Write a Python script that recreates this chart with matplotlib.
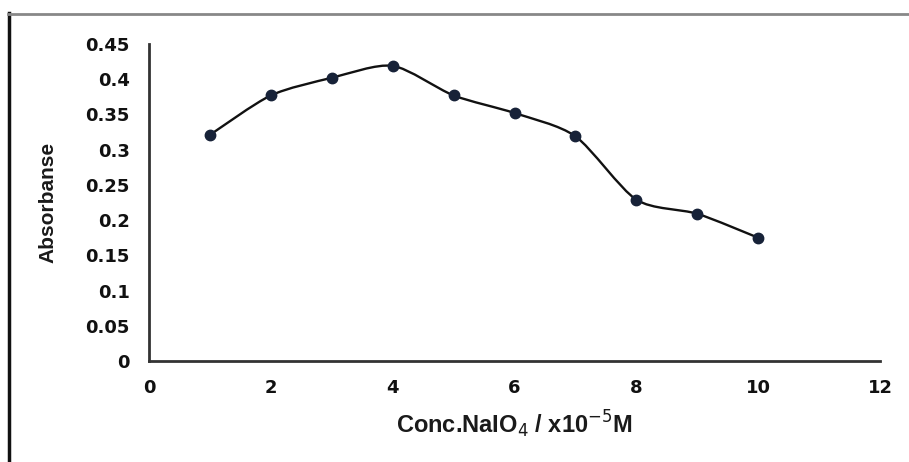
import numpy as np
import matplotlib
matplotlib.use("Agg")
import matplotlib.pyplot as plt
from matplotlib.path import Path
from matplotlib.patches import PathPatch
from matplotlib.lines import Line2D

conc = [1, 2, 3, 4, 5, 6, 7, 8, 9, 10]
absorbance = [0.321, 0.377, 0.402, 0.419, 0.377, 0.352, 0.319, 0.229, 0.209, 0.175]
xticks = [0, 2, 4, 6, 8, 10, 12]
yticks = [0, 0.05, 0.1, 0.15, 0.2, 0.25, 0.3, 0.35, 0.4, 0.45]
ytick_labels = ["0", "0.05", "0.1", "0.15", "0.2", "0.25", "0.3", "0.35", "0.4", "0.45"]

fig = plt.figure(figsize=(9.09, 4.62), dpi=100)
fig.patch.set_facecolor("white")
ax = fig.add_axes([149/909, 1-361/462, (880-149)/909, (361-44)/462])

# smooth line (Excel-style Bezier through points)
x = np.array(conc, float)
y = np.array(absorbance, float)
verts = [(x[0], y[0])]
codes = [Path.MOVETO]
n = len(x)
t = 0.13
for i in range(n-1):
    p0 = (x[i-1], y[i-1]) if i > 0 else (x[i], y[i])
    p1 = (x[i], y[i]); p2 = (x[i+1], y[i+1])
    p3 = (x[i+2], y[i+2]) if i+2 < n else (x[i+1], y[i+1])
    c1 = (p1[0] + (p2[0]-p0[0])*t, p1[1] + (p2[1]-p0[1])*t)
    c2 = (p2[0] - (p3[0]-p1[0])*t, p2[1] - (p3[1]-p1[1])*t)
    verts += [c1, c2, p2]
    codes += [Path.CURVE4]*3
ax.add_patch(PathPatch(Path(verts, codes), facecolor="none", edgecolor="#111111", lw=1.7, zorder=2))
ax.plot(conc, absorbance, linestyle="none", marker="o", markersize=7.5,
        color="#172238", markeredgecolor="#172238", zorder=3)

ax.set_xlim(0, 12)
ax.set_ylim(0, 0.45)
ax.set_xticks(xticks)
ax.set_yticks(yticks)
ax.set_yticklabels(ytick_labels)
for s in ["top", "right"]:
    ax.spines[s].set_visible(False)
for s in ["left", "bottom"]:
    ax.spines[s].set_color("#333333")
    ax.spines[s].set_linewidth(2.0)
ax.tick_params(length=0, labelsize=13, colors="#111111")
ax.tick_params(axis="y", pad=14)
ax.tick_params(axis="x", pad=13)
for lab in ax.get_xticklabels() + ax.get_yticklabels():
    lab.set_fontfamily("DejaVu Sans")
    lab.set_fontweight("bold")

ax.set_xlabel("Conc.NaIO$_4$ / x10$^{-5}$M", fontsize=17, fontweight="bold",
              family="Liberation Sans", color="#1a1a1a", labelpad=8)
ax.set_ylabel("Absorbanse", fontsize=15, fontweight="bold",
              family="Liberation Sans", color="#1a1a1a", labelpad=20)

# outer frame lines
fig.add_artist(Line2D([9/909, 9/909], [0, 1-13/462], transform=fig.transFigure,
                      color="#111111", lw=2.5))
fig.add_artist(Line2D([8/909, 1], [1-14/462, 1-14/462], transform=fig.transFigure,
                      color="#888888", lw=2.0))

fig.savefig("out.png", dpi=100, facecolor="white")
